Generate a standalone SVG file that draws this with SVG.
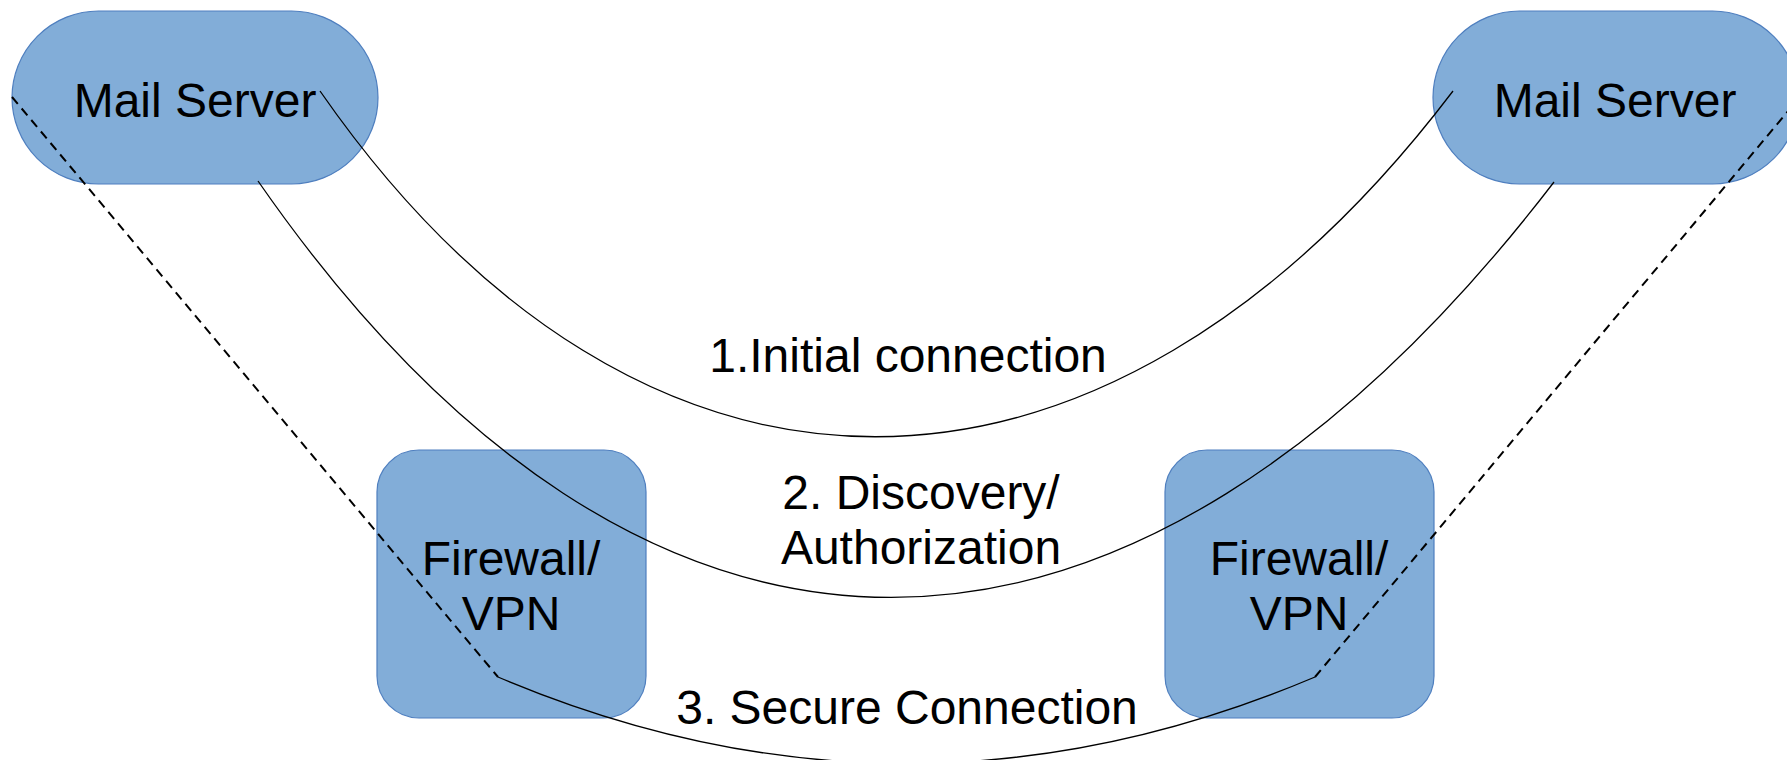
<svg xmlns="http://www.w3.org/2000/svg" width="1787" height="760" viewBox="0 0 1787 760">
  <style>
    .shape { fill: #82add8; stroke: #4f7fbf; stroke-width: 1.2; }
    .label { font-family: "Liberation Sans", Arial, sans-serif; font-size: 48px; fill: #000; text-anchor: middle; }
    .link { fill: none; stroke: #000; stroke-width: 1.3; }
    .tunnel { fill: none; stroke: #000; stroke-width: 2; stroke-dasharray: 9 6; }
  </style>

  <rect width="1787" height="760" fill="#ffffff"/>

  <!-- Mail servers (stadium shapes) -->
  <g id="mail-server-left">
    <rect class="shape" x="12" y="11" width="366" height="173" rx="86.5" ry="86.5"/>
    <text class="label" x="195" y="117">Mail Server</text>
  </g>
  <g id="mail-server-right">
    <rect class="shape" x="1433" y="11" width="366" height="173" rx="86.5" ry="86.5"/>
    <text class="label" x="1615" y="117">Mail Server</text>
  </g>

  <!-- Firewalls -->
  <g id="firewall-left">
    <rect class="shape" x="377" y="450" width="269" height="268" rx="42" ry="42"/>
    <text class="label" x="511" y="575">Firewall/</text>
    <text class="label" x="511" y="630">VPN</text>
  </g>
  <g id="firewall-right">
    <rect class="shape" x="1165" y="450" width="269" height="268" rx="42" ry="42"/>
    <text class="label" x="1299" y="575">Firewall/</text>
    <text class="label" x="1299" y="630">VPN</text>
  </g>

  <!-- Connections between the servers -->
  <g id="connectors">
    <!-- 1. initial connection -->
    <path class="link" d="M320,91 C640,552 1103,552 1453,91"/>
    <!-- 2. discovery / authorization -->
    <path class="link" d="M258,181 C643,736 1129,736 1554,182"/>
    <!-- 3. secure connection: tunnel legs through the firewalls, solid between them -->
    <path class="tunnel" d="M12,97 L498,677"/>
    <path class="link" d="M498,677 Q906,850 1315,677"/>
    <path class="tunnel" d="M1315,677 L1799,98"/>

    <text class="label" x="908" y="372">1.Initial connection</text>
    <text class="label" x="921" y="509">2. Discovery/</text>
    <text class="label" x="921" y="564">Authorization</text>
    <text class="label" x="907" y="724">3. Secure Connection</text>
  </g>
</svg>
